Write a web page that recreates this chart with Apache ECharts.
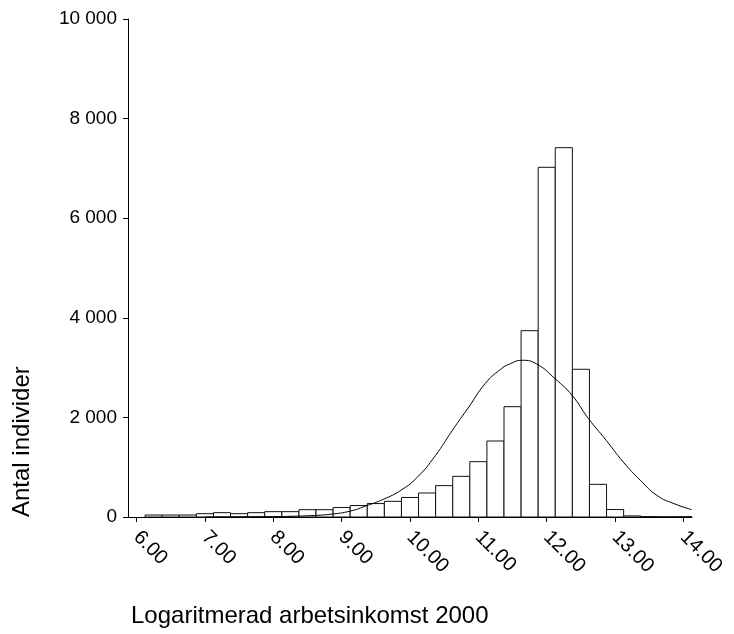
<!DOCTYPE html>
<html><head><meta charset="utf-8">
<script src="https://cdn.jsdelivr.net/npm/echarts@6/dist/echarts.min.js"></script>
<style>html,body{margin:0;padding:0;background:#fff}#c{width:734px;height:634px}</style>
</head><body><div id="c"></div>
<script>
// Histogram bins (bin centres, width 0.25) and counts
const binWidth = 0.25;
const binCenters = [6.25,6.5,6.75,7.0,7.25,7.5,7.75,8.0,8.25,8.5,8.75,9.0,9.25,9.5,9.75,10.0,10.25,10.5,10.75,11.0,11.25,11.5,11.75,12.0,12.25,12.5,12.75,13.0,13.25,13.5,13.75,14.0];
const binCounts  = [40,40,40,67,87,67,87,107,107,147,147,190,230,270,315,392,482,630,817,1111,1526,2215,3741,7022,7416,2966,656,150,22,8,4,6];
// Fitted normal curve
const curveX = [7.0,7.5,8.0,8.25,8.5,8.83,9.13,9.37,9.61,9.87,10.11,10.37,10.62,10.86,11.10,11.32,11.47,11.64,11.86,12.12,12.37,12.61,12.87,13.12,13.37,13.61,13.86,14.12];
const curveY = [1,3,8,14,25,54,120,230,355,540,803,1230,1741,2209,2679,2960,3080,3147,3066,2779,2444,1976,1540,1104,737,436,269,149];
// Axis tick labels
const xTickValues = [6,7,8,9,10,11,12,13,14];
const yTickValues = [0,2000,4000,6000,8000,10000];

const FONT = "'Liberation Sans', Arial, sans-serif";
const chart = echarts.init(document.getElementById('c'), null, {renderer:'canvas'});
chart.setOption({
  animation: false,
  backgroundColor: '#fff',
  grid: {left: 128, top: 19, width: 564, height: 498, containLabel: false},
  xAxis: {
    type: 'value', min: 5.875, max: 14.125,
    splitLine: {show: false},
    axisLine: {show: true, onZero: false, lineStyle: {color: '#000', width: 1}},
    axisTick: {show: true, length: 5, lineStyle: {color: '#000'}, customValues: xTickValues},
    axisLabel: {show: true, rotate: -45, margin: 17, color: '#000', fontSize: 20, fontFamily: FONT,
      customValues: xTickValues, formatter: v => Number(v).toFixed(2)}
  },
  yAxis: {
    type: 'value', min: yTickValues[0], max: yTickValues[yTickValues.length-1], interval: 2000,
    splitLine: {show: false},
    axisLine: {show: true, lineStyle: {color: '#000', width: 1}},
    axisTick: {show: true, length: 5, lineStyle: {color: '#000'}},
    axisLabel: {margin: 11, color: '#000', fontSize: 19, fontFamily: FONT,
      formatter: v => String(v).replace(/\B(?=(\d{3})+(?!\d))/g, ' ')}
  },
  graphic: [
    {type: 'text', left: 131, top: 604, style: {text: 'Logaritmerad arbetsinkomst 2000', fill: '#000', font: '24px ' + FONT}},
    {type: 'text', x: 10, y: 517, rotation: Math.PI/2, style: {text: 'Antal individer', fill: '#000', font: '24px ' + FONT, textAlign: 'left', textVerticalAlign: 'top'}}
  ],
  series: [
    {
      type: 'custom', z: 2, clip: true,
      data: binCenters.map((c, i) => [c, binCounts[i]]),
      renderItem: function(params, api) {
        const c = api.value(0), v = api.value(1);
        const p0 = api.coord([c - binWidth/2, v]);
        const p1 = api.coord([c + binWidth/2, 0]);
        return {type: 'rect', shape: {x: p0[0], y: p0[1], width: p1[0]-p0[0], height: p1[1]-p0[1]},
          style: {fill: '#fff', stroke: '#111', lineWidth: 1}};
      }
    },
    {
      type: 'line', z: 3, smooth: true, showSymbol: false, symbol: 'none',
      data: curveX.map((x, i) => [x, curveY[i]]),
      lineStyle: {color: '#000', width: 1}
    }
  ]
});
</script></body></html>
